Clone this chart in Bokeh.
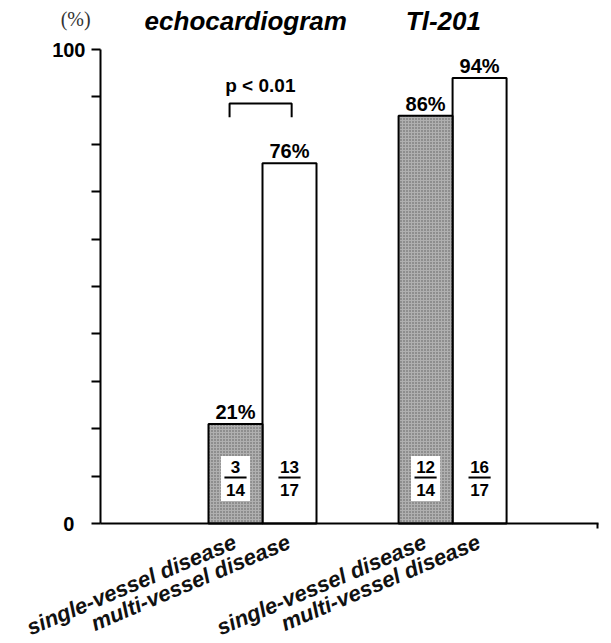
from bokeh.plotting import figure
from bokeh.models import Range1d, FixedTicker, LinearAxis, ColumnDataSource
from bokeh.core.properties import value
from bokeh.embed import file_html
from bokeh.resources import INLINE

# ---- data ----
groups = ["echocardiogram", "Tl-201"]
categories = ["single-vessel disease", "multi-vessel disease",
              "single-vessel disease", "multi-vessel disease"]
bar_group = [0, 0, 1, 1]
percent = [21, 76, 86, 94]
percent_labels = ["21%", "76%", "86%", "94%"]
numerators = ["3", "13", "12", "16"]
denominators = ["14", "17", "14", "17"]
shaded = [True, False, True, False]
y_ticks = list(range(0, 101, 10))
y_tick_labels = {0: "0\u00a0\u00a0", 100: "100"}
p_text = "p < 0.01"
unit_text = "(%)"

# ---- layout (x in bar-width units, y in percent) ----
group_start = [2.0, 5.52]
xc = [group_start[g] + 0.5 + (i % 2) for i, g in enumerate(bar_group)]
x_axis_end = 9.22

W, H = 607, 641
PX_X = 54.0            # pixels per bar width
PX_Y = 4.74            # pixels per percent
ORIGIN = (100, 523)    # pixel position of (0, 0)

FONT = "Liberation Sans"

p = figure(width=W, height=H, output_backend="svg", toolbar_location=None,
           x_range=Range1d(-ORIGIN[0] / PX_X, (W - ORIGIN[0]) / PX_X),
           y_range=Range1d(-(H - ORIGIN[1]) / PX_Y, ORIGIN[1] / PX_Y),
           x_axis_type=None, y_axis_type=None, min_border=0)
p.outline_line_color = None
p.grid.visible = False
p.background_fill_color = "white"
p.border_fill_color = "white"

# bars
grey_x = [x for x, s in zip(xc, shaded) if s]
grey_y = [v for v, s in zip(percent, shaded) if s]
white_x = [x for x, s in zip(xc, shaded) if not s]
white_y = [v for v, s in zip(percent, shaded) if not s]
p.vbar(x=white_x, top=white_y, bottom=0, width=1.0, fill_color="white",
       line_color="black", line_width=2)
p.vbar(x=grey_x, top=grey_y, bottom=0, width=1.0, fill_color="#b0b0b0",
       hatch_pattern="dot", hatch_scale=3, hatch_color="#5a5a5a", hatch_weight=1,
       line_color="black", line_width=2)

# white boxes behind fractions in shaded bars
p.rect(x=grey_x, y=[9.5] * len(grey_x), width=0.54, height=9.5,
       fill_color="white", line_color=None)

src = ColumnDataSource(dict(x=xc, yn=[12.0] * 4, yd=[7.0] * 4,
                            num=numerators, den=denominators,
                            yp=[v + 2.5 for v in percent], pl=percent_labels))
common = dict(text_align="center", text_baseline="middle", text_font=value(FONT),
              text_font_style="bold", text_color="black")
p.text(x="x", y="yn", text="num", source=src, text_font_size="17px", **common)
p.text(x="x", y="yd", text="den", source=src, text_font_size="17px", **common)
p.rect(x=xc, y=[9.7] * 4, width=0.41, height=0.42, fill_color="black", line_color=None)

# percent labels
p.text(x="x", y="yp", text="pl", source=src, text_font_size="20px", **common)

# significance bracket
p.line(x=[2.39, 2.39, 3.54, 3.54], y=[85.7, 88.6, 88.6, 85.7],
       line_color="black", line_width=2)
p.text(x=[2.96], y=[92.3], text=[p_text], text_font_size="19px", **common)

# axes placed at the data origin
yax = LinearAxis(fixed_location=0, bounds=(0, 100),
                 ticker=FixedTicker(ticks=y_ticks),
                 major_label_overrides={t: y_tick_labels.get(t, "") for t in y_ticks})
yax.major_tick_out = 9
yax.major_tick_in = 0
yax.minor_tick_line_color = None
yax.axis_line_width = 2
yax.major_tick_line_width = 2
yax.major_label_standoff = 6
yax.major_label_text_font = FONT
yax.major_label_text_font_style = "bold"
yax.major_label_text_font_size = "20px"
yax.major_label_text_color = "black"
p.add_layout(yax, "left")

xax = LinearAxis(fixed_location=0, bounds=(0, x_axis_end),
                 ticker=FixedTicker(ticks=[], minor_ticks=[x_axis_end - 0.02]))
xax.minor_tick_out = 5
xax.minor_tick_in = 0
xax.minor_tick_line_width = 2
xax.axis_line_width = 2
xax.major_label_text_font_size = "0px"
p.add_layout(xax, "below")

# category labels (rotated)
p.text(x=[x - 0.1 for x in xc], y=[-1.2] * 4, text=categories, angle=23,
       angle_units="deg", text_align="right", text_baseline="top",
       text_font=value(FONT), text_font_style="bold italic", text_font_size="22px",
       text_color="#111111")

# group titles
p.text(x=[2.69, 6.35], y=[106.1, 106.1], text=groups, text_align="center",
       text_baseline="middle", text_font=value(FONT), text_font_style="bold italic",
       text_font_size="26px", text_color="black")

# unit label
p.text(x=[-0.46], y=[106.4], text=[unit_text], text_align="center",
       text_baseline="middle", text_font=value("Liberation Serif"),
       text_font_size="20px", text_color="#333333")

open("out.html", "w").write(file_html(p, INLINE))
